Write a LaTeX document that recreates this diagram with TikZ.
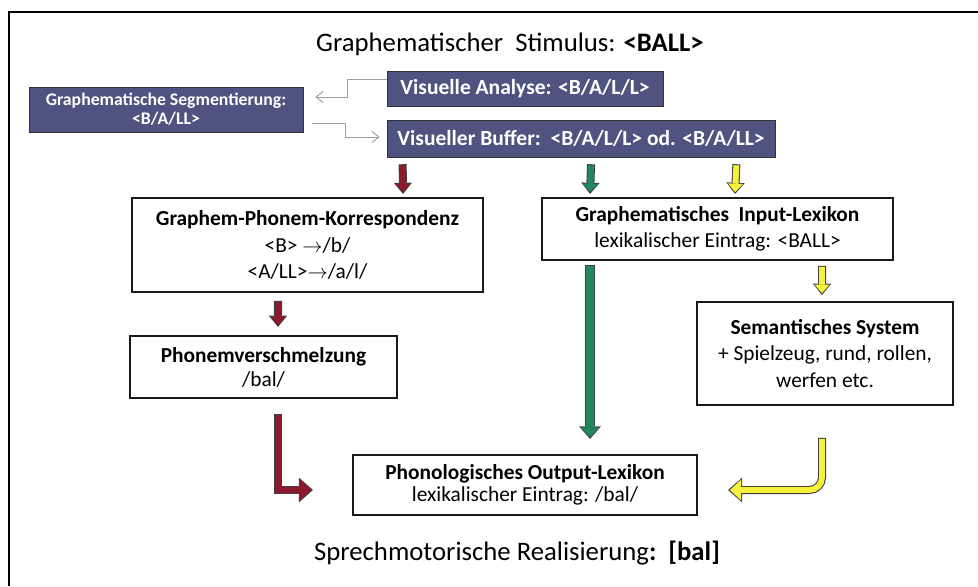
\documentclass[tikz,border=0pt]{standalone}
\usepackage{fontspec}
\setmainfont{Carlito}
\usetikzlibrary{arrows.meta, positioning, calc}

\definecolor{boxblue}{RGB}{78,83,128}
\definecolor{arrred}{RGB}{140,26,44}
\definecolor{arrgreen}{RGB}{34,136,96}
\definecolor{arryellow}{RGB}{246,242,60}

\tikzset{
  darkbox/.style={draw=black!80, fill=boxblue, text=white, font=\bfseries, inner sep=0pt},
  plainbox/.style={draw=black!90, line width=1.2pt, fill=white, align=center, inner sep=0pt},
  conn/.style={draw=gray!75, line width=0.7pt, -{Straight Barb[length=5pt,width=8pt]}},
  smallarr/.style={draw=#1, line width=4.2pt, -{Triangle[length=6pt,width=10.5pt,line width=0pt]},
    preaction={draw=black!75, line width=5.7pt, shorten <=-0.75pt, shorten >=-1.3pt,
      -{Triangle[length=8pt,width=13pt,line width=0pt]}}},
  longarr/.style={draw=#1, line width=5.4pt, -{Triangle[length=7pt,width=13pt,line width=0pt]},
    preaction={draw=black!75, line width=6.9pt, shorten <=-0.75pt, shorten >=-1.3pt,
      -{Triangle[length=9pt,width=15.6pt,line width=0pt]}}},
  bigarr/.style={draw=#1, line width=4.2pt, -{Triangle[length=8pt,width=15pt,line width=0pt]},
    preaction={draw=black!75, line width=5.7pt, shorten <=-0.75pt, shorten >=-1.3pt,
      -{Triangle[length=10pt,width=17.7pt,line width=0pt]}}}
}

\begin{document}
\begin{tikzpicture}[x=0.025cm, y=-0.025cm]
  \useasboundingbox (0,0) rectangle (978,586);
  % frame
  \draw[line width=1.5pt] (978,12) -- (9,12) -- (9,586);

  % titles
  \node[font=\fontsize{19}{22}\selectfont] (stim) at (510,44) {Graphematischer\ \ Stimulus: \textbf{<BALL>}};
  \node[font=\fontsize{19}{22}\selectfont] (real) at (517,553) {Sprechmotorische Realisierung\textbf{:}\ \ \textbf{[bal]}};

  % dark boxes
  \node[darkbox, minimum width=6.85cm, minimum height=1.125cm, align=center,
        font=\bfseries\fontsize{12.6}{13.5}\selectfont] (seg) at (166,109.5)
        {Graphematische Segmentierung:\\<B/A/LL>};
  \node[darkbox, minimum width=6.9cm, minimum height=0.875cm,
        font=\bfseries\fontsize{15.3}{17}\selectfont] (va) at (525,88.5) {Visuelle Analyse: <B/A/L/L>};
  \node[darkbox, minimum width=9.7cm, minimum height=0.925cm,
        font=\bfseries\fontsize{15.3}{17}\selectfont] (vb) at (581,138.5)
        {Visueller Buffer:\ \ <B/A/L/L> od. <B/A/LL>};

  % white boxes
  \node[plainbox, minimum width=8.775cm, minimum height=2.35cm,
        font=\fontsize{15.2}{19}\selectfont] (gpk) at (307.5,245)
        {\textbf{Graphem-Phonem-Korrespondenz}\\<B>\ $\rightarrow$/b/\\<A/LL>$\rightarrow$/a/l/};
  \node[plainbox, minimum width=6.675cm, minimum height=1.55cm,
        font=\fontsize{15.2}{17}\selectfont] (phv) at (263.5,367)
        {\textbf{Phonemverschmelzung}\\/bal/};
  \node[plainbox, minimum width=8.775cm, minimum height=1.55cm,
        font=\fontsize{15.2}{18.5}\selectfont] (iln) at (717.5,229)
        {\textbf{Graphematisches\ \ Input-Lexikon}\\lexikalischer Eintrag: <BALL>};
  \node[plainbox, minimum width=6.4cm, minimum height=2.575cm,
        font=\fontsize{15.2}{19}\selectfont] (sem) at (825,353.5)
        {\textbf{Semantisches System}\\+ Spielzeug, rund, rollen,\\werfen etc.};
  \node[plainbox, minimum width=8.6cm, minimum height=1.5cm,
        font=\fontsize{15.2}{16}\selectfont] (pol) at (525,485)
        {\textbf{Phonologisches Output-Lexikon}\\lexikalischer Eintrag: /bal/};

  % segmentation loop
  \draw[conn] ($(va.west)+(0,-9.5)$) -- ++(-39,0) |- ($(seg.east)+(12,-12.5)$);
  \draw[conn] ($(seg.east)+(9,13.5)$) -- ++(33,0) |- ($(vb.west)+(-7,-1.5)$);

  % routes
  \draw[smallarr=arrred] ($(vb.south west)+(16,8)$) -- ($(gpk.north)+(95.5,-5)$);
  \draw[smallarr=arrgreen] ($(vb.south)+(10,8)$) -- ($(iln.north west)+(49,-5)$);
  \draw[smallarr=arryellow] ($(vb.south east)+(-39,8)$) -- ($(iln.north west)+(194,-5)$);
  \draw[smallarr=arrred] ($(gpk.south)+(-29.5,9)$) -- ($(phv.north)+(14.5,-10)$);
  \draw[smallarr=arryellow] ($(iln.south)+(104.5,6)$) -- ($(sem.north)+(-3,-8)$);
  \draw[longarr=arrgreen] ($(iln.south)+(-127.5,5)$) -- ($(pol.north)+(65,-17)$);
  \draw[bigarr=arrred] ($(phv.south)+(14.5,16)$) |- ($(pol.west)+(-41,5)$);
  \draw[bigarr=arryellow, rounded corners=9pt] ($(sem.south)+(-3,33)$) |- ($(pol.east)+(32,5)$);
\end{tikzpicture}
\end{document}
